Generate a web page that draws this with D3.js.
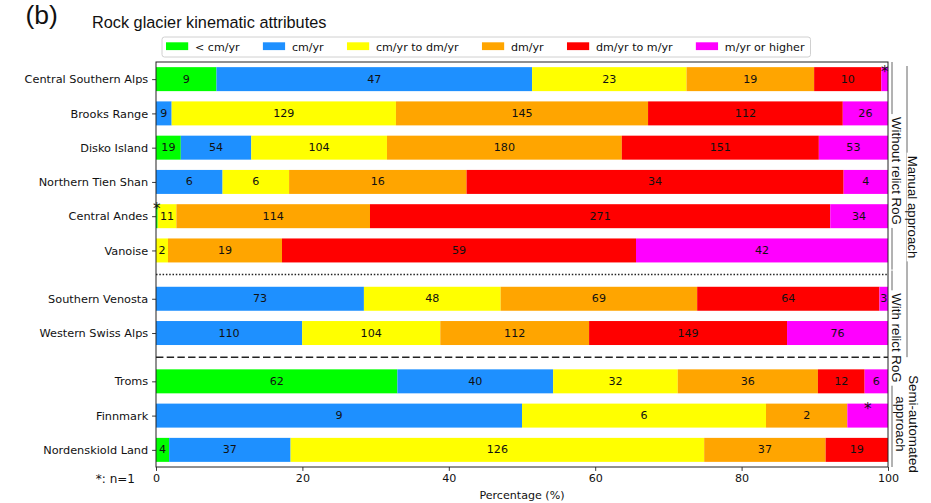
<!DOCTYPE html>
<html><head><meta charset="utf-8">
<script src="https://cdn.jsdelivr.net/npm/d3@7"></script>
<style>
body{margin:0;background:#fff;}
svg text{font-family:"DejaVu Sans",sans-serif;}
</style></head>
<body><svg id="c" width="931" height="503"></svg>
<script>
// ---------------- data ----------------
const categories = ["Central Southern Alps","Brooks Range","Disko Island","Northern Tien Shan","Central Andes","Vanoise","Southern Venosta","Western Swiss Alps","Troms","Finnmark","Nordenskiold Land"];
const groupOf = [0,0,0,0,0,0,1,1,2,2,2];
const seriesNames = ["< cm/yr","cm/yr","cm/yr to dm/yr","dm/yr","dm/yr to m/yr","m/yr or higher"];
const lessThanCm = [9,0,19,0,1,0,0,0,62,0,4];
const cmPerYr    = [47,9,54,6,0,0,73,110,40,9,37];
const cmToDm     = [23,129,104,6,11,2,48,104,32,6,126];
const dmPerYr    = [19,145,180,16,114,19,69,112,36,2,37];
const dmToM      = [10,112,151,34,271,59,64,149,12,0,19];
const mOrHigher  = [1,26,53,4,34,42,3,76,6,1,0];
const xTicks = [0,20,40,60,80,100];
const xLabel = "Percentage (%)";
const title = "Rock glacier kinematic attributes";
const panel = "(b)";
const note = "*: n=1";
const innerGroupLabels = ["Without relict RoG","With relict RoG"];
const outerGroupLabels = ["Manual approach",["Semi-automated","approach"]];
const colors = ["#00ff00","#1e90ff","#ffff00","#ffa500","#ff0000","#ff00ff"];

// ---------------- build ----------------
const series = [lessThanCm,cmPerYr,cmToDm,dmPerYr,dmToM,mOrHigher];
const keys = seriesNames;
const svg = d3.select("#c");
const L = 156, R = 888, T = 62, B = 467;
const GAP = 0.41;
const rowPos = categories.map((c,i)=> i + groupOf[i]*GAP);
const x = d3.scaleLinear().domain([0,100]).range([L,R]);
const y = d3.scaleLinear().domain([-0.5, rowPos[rowPos.length-1]+0.5]).range([T,B]);
const barH = y(0.7)-y(0);
const yCat = d3.scaleOrdinal().domain(categories).range(rowPos.map(p=>y(p)));

const table = categories.map((c,i)=>{
  const tot = d3.sum(series, s=>s[i]);
  const o = {cat:c, idx:i};
  keys.forEach((k,j)=> o[k] = series[j][i]/tot*100);
  return o;
});
const stacked = d3.stack().keys(keys)(table);

// bars
const gBars = svg.append("g");
stacked.forEach((layer,j)=>{
  gBars.selectAll(null).data(layer).join("rect")
    .attr("x", d=>x(d[0]))
    .attr("width", d=>Math.max(0,x(d[1])-x(d[0])))
    .attr("y", d=>yCat(d.data.cat)-barH/2)
    .attr("height", barH)
    .attr("fill", colors[j]);
});

// labels
const gLab = svg.append("g");
stacked.forEach((layer,j)=>{
  layer.forEach((d)=>{
    const n = series[j][d.data.idx];
    if(n===0) return;
    const cx = (x(d[0])+x(d[1]))/2;
    const cy = yCat(d.data.cat);
    if(n===1){
      gLab.append("text").attr("x",cx).attr("y",cy-barH/2+10)
        .attr("text-anchor","middle").attr("font-size",15).attr("fill","#111").text("*");
    } else {
      gLab.append("text").attr("x",cx).attr("y",cy)
        .attr("text-anchor","middle").attr("dominant-baseline","central")
        .attr("font-size",11.1).attr("fill","#111").text(n);
    }
  });
});

// separators
const sep1 = (rowPos[5]+rowPos[6])/2, sep2 = (rowPos[7]+rowPos[8])/2;
svg.append("line").attr("x1",L).attr("x2",R).attr("y1",y(sep1)).attr("y2",y(sep1))
  .attr("stroke","#222").attr("stroke-width",1.5).attr("stroke-dasharray","1.5,1.8");
svg.append("line").attr("x1",L).attr("x2",R).attr("y1",y(sep2)).attr("y2",y(sep2))
  .attr("stroke","#222").attr("stroke-width",1.5).attr("stroke-dasharray","7.4,3.3");

// frame
svg.append("rect").attr("x",L).attr("y",T).attr("width",R-L).attr("height",B-T)
  .attr("fill","none").attr("stroke","#222").attr("stroke-width",1);

// axes
const ax = svg.append("g").attr("transform",`translate(0,${B})`)
  .call(d3.axisBottom(x).tickValues(xTicks).tickSize(3.9).tickPadding(3.2).tickFormat(d3.format("d")));
ax.select(".domain").remove();
ax.selectAll("text").attr("font-size",11.1).attr("font-family","DejaVu Sans").attr("fill","#111");
ax.selectAll("line").attr("stroke","#222").attr("stroke-width",0.9);

const ay = svg.append("g").attr("transform",`translate(${L},0)`)
  .call(d3.axisLeft(yCat).tickSize(3.9).tickPadding(3.9));
ay.select(".domain").remove();
ay.selectAll("text").attr("font-size",11.3).attr("font-family","DejaVu Sans").attr("fill","#111");
ay.selectAll("line").attr("stroke","#222").attr("stroke-width",0.9);

svg.append("text").attr("x",(L+R)/2).attr("y",499).attr("text-anchor","middle")
  .attr("font-size",11.1).attr("fill","#111").text(xLabel);
svg.append("text").attr("x",135).attr("y",483).attr("text-anchor","end")
  .attr("font-size",12).attr("fill","#111").text(note);

// title & panel letter
svg.append("text").attr("x",92).attr("y",28.2).style("font-family","'Liberation Sans',Arial,sans-serif")
  .attr("font-size",16.3).attr("fill","#111").text(title);
svg.append("text").attr("x",25.5).attr("y",23.9).style("font-family","'Liberation Sans',Arial,sans-serif")
  .attr("font-size",26.5).attr("fill","#111").text(panel);

// legend
const lg = svg.append("g");
const lgBox = lg.append("rect").attr("x",162).attr("y",37).attr("height",20).attr("rx",2.5)
  .attr("fill","#fff").attr("stroke","#d0d0d0").attr("stroke-width",1);
let lx = 166;
seriesNames.forEach((nm,j)=>{
  lg.append("rect").attr("x",lx).attr("y",42.3).attr("width",22.2).attr("height",7.8).attr("fill",colors[j]);
  const t = lg.append("text").attr("x",lx+29).attr("y",47).attr("dominant-baseline","central")
    .attr("font-size",11.1).attr("fill","#111").text(nm);
  const w = t.node().getComputedTextLength();
  lx = lx + 29 + w + (j<seriesNames.length-1 ? 23.3 : 0);
});
lgBox.attr("width", lx + 6 - 162);

// right-side group annotations
const fam = "'Liberation Sans',Arial,sans-serif";
function vline(xx,y1,y2){
  svg.append("line").attr("x1",xx).attr("x2",xx).attr("y1",y1).attr("y2",y2)
    .attr("stroke","#666").attr("stroke-width",1);
}
function vtext(lines, cx, cy, fs){
  const lh = fs*0.98;
  const n = lines.length;
  const g = svg.append("g");
  lines.forEach((s,k)=>{
    const off = ((n-1)/2 - k)*lh; // first line on the right
    const bg = g.append("rect").attr("fill","#fff");
    const t = g.append("text").attr("transform",`translate(${cx+off},${cy}) rotate(90)`)
      .attr("text-anchor","middle").attr("dominant-baseline","central")
      .style("font-family",fam).attr("font-size",fs).attr("fill","#111").text(s);
    const w = t.node().getComputedTextLength();
    bg.attr("x",cx+off-fs*0.4).attr("width",fs*0.8)
      .attr("y",cy-w/2-3).attr("height",w+6);
  });
}
const xi = R+4, xo = R+19;
const g0Top = T, g0Bot = y(sep1)-5, g1Top = y(sep1)-4, g1Bot = y(sep2);
const g2Top = y(sep2)+3, g2Bot = B;
vline(xi, g0Top, g0Bot);
vline(xi, g1Top, g1Bot);
vline(xi, g2Top, g2Bot);
vline(xo, T+4, y(sep2));
vtext([innerGroupLabels[0]], xi+4, 171, 13.3);
vtext([innerGroupLabels[1]], xi+4, 338, 13.3);
vtext([outerGroupLabels[0]], xo+5, 207, 13.3);
vtext(outerGroupLabels[1], xo, 424, 13.3);
</script>
</body></html>
